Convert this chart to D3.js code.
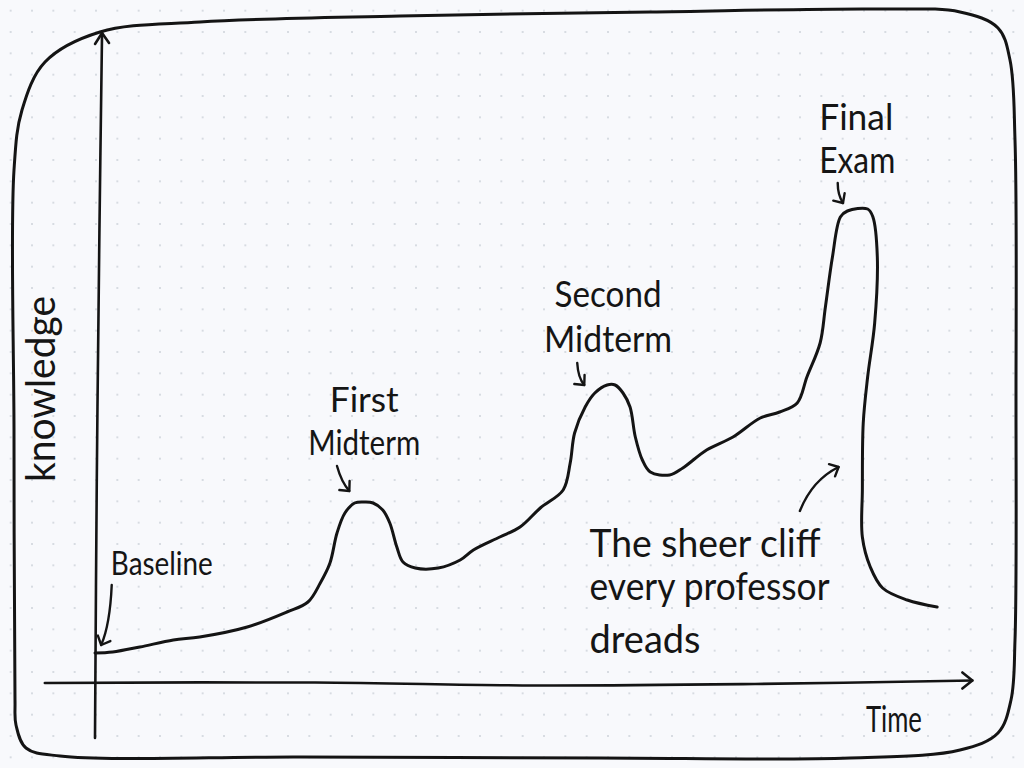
<!DOCTYPE html>
<html>
<head>
<meta charset="utf-8">
<script src="https://cdn.jsdelivr.net/npm/d3@7"></script>
<style>
  html, body { margin: 0; padding: 0; background: #f8f9fc; }
  svg { display: block; }
  .hand { font-family: "Lato", "Open Sans", "Noto Sans", sans-serif; font-weight: 400; fill: #151515; }
</style>
</head>
<body>
<svg id="chart" width="1024" height="768"></svg>
<script>
/* Knowledge over a semester, sketch style */

// curve: time (0-100) vs knowledge (0-100)
const TIME = [
  0, 2.0, 5.1, 8.9, 11.9, 17.3, 21.8, 24.2, 25.6, 26.7, 27.5, 28.4, 29.5, 30.7,
  31.6, 32.7, 33.5, 34.3, 35.0, 36.4, 39.0, 41.5, 43.0, 46.0, 48.3, 50.6, 53.2,
  54.0, 54.5, 55.7, 56.8, 58.2, 59.1, 60.0, 60.8, 61.4, 62.2, 63.1, 65.3, 66.8,
  69.5, 72.5, 75.6, 77.8, 79.8, 80.9, 82.4, 83.0, 83.8, 84.7, 85.5, 87.8, 88.4,
  88.9, 88.6, 87.8, 87.3, 87.2, 87.2, 88.1, 89.5, 92.3, 95.7
];
const KNOWLEDGE = [
  6.0, 6.2, 7.2, 8.6, 9.2, 11.2, 14.2, 16.2, 20.0, 24.0, 30.0, 34.0, 36.0, 36.2,
  36.0, 34.6, 32.0, 27.2, 24.2, 23.0, 23.0, 24.6, 26.6, 29.2, 31.2, 35.0, 38.6,
  44.0, 50.0, 55.2, 58.0, 59.6, 59.6, 58.0, 55.2, 49.2, 44.6, 42.2, 41.6, 43.0,
  46.6, 49.2, 53.0, 54.2, 56.0, 61.2, 68.0, 75.2, 85.2, 93.2, 94.4, 94.8, 93.2,
  85.2, 72.0, 61.2, 52.0, 38.6, 29.2, 23.2, 19.0, 16.6, 15.2
];

// annotation labels: lines, anchor (time, knowledge), size, widths
const LABEL_TEXT = [
  ["Baseline"],
  ["First", "Midterm"],
  ["Second", "Midterm"],
  ["Final", "Exam"],
  ["The sheer cliff", "every professor", "dreads"]
];
const LABEL_T = [1.8, 30.6, 58.3, 82.3, 56.2];
const LABEL_K = [[21.6], [54.2, 45.6], [75.2, 66.2], [110.6, 102.0], [25.2, 16.6, 6.0]];
const LABEL_ANCHOR = ["start", "middle", "middle", "start", "start"];
const LABEL_SIZE = [33, 35, 37, 37, 38];
const LABEL_WIDTH = [[102], [69, 112], [107, 128], [74, 76], [231, 240, 111]];

// pointer arrows: start, bend, end (time, knowledge)
const ARROW_FROM = [[1.9, 19.6], [27.5, 43.4], [54.8, 64.0], [84.4, 100.0], [80.1, 34.4]];
const ARROW_BEND = [[1.7, 11.6], [28.0, 40.2], [54.9, 61.0], [84.4, 97.6], [81.5, 40.6]];
const ARROW_TO = [[0.7, 7.6], [28.9, 38.4], [55.6, 59.6], [85.0, 96.0], [84.5, 43.2]];

const X_LABEL = "Time";
const Y_LABEL = "knowledge";

const W = 1024, H = 768;
const INK = "#141414";

const svg = d3.select("#chart");

const x = d3.scaleLinear().domain([0, 100]).range([95, 975]);
const y = d3.scaleLinear().domain([0, 100]).range([683, 183]);

// dotted paper
const defs = svg.append("defs");
const step = 64 / 3;
const pat = defs.append("pattern")
  .attr("id", "dots")
  .attr("patternUnits", "userSpaceOnUse")
  .attr("width", step)
  .attr("height", step);
pat.append("circle")
  .attr("cx", step / 2)
  .attr("cy", step / 2)
  .attr("r", 0.9)
  .attr("fill", "#c9ced6");

svg.append("rect").attr("width", W).attr("height", H).attr("fill", "#f8f9fc");
svg.append("rect").attr("width", W).attr("height", H).attr("fill", "url(#dots)");

// hand drawn frame
const framePts = [
  [15, 700], [14, 430], [14, 170], [22, 110], [45, 62], [100, 32], [200, 22],
  [400, 16], [650, 12], [880, 9], [960, 12], [998, 28], [1010, 60], [1015, 140],
  [1016, 400], [1015, 640], [1011, 700], [998, 733], [960, 750], [850, 758],
  [600, 758], [300, 757], [60, 756], [26, 748], [16, 725]
];
svg.append("path")
  .attr("d", d3.line().curve(d3.curveCatmullRomClosed.alpha(0.5))(framePts))
  .attr("fill", "none")
  .attr("stroke", INK)
  .attr("stroke-width", 3)
  .attr("stroke-linejoin", "round");

const axisLine = d3.line()
  .x(d => x(d[0]))
  .y(d => y(d[1]))
  .curve(d3.curveCatmullRom);

const axisG = svg.append("g")
  .attr("fill", "none")
  .attr("stroke", INK)
  .attr("stroke-width", 2.6)
  .attr("stroke-linecap", "round")
  .attr("stroke-linejoin", "round");

// y axis
axisG.append("path").attr("d", axisLine([[0, -11], [0.2, 40], [0.5, 90], [0.8, 130]]));
axisG.append("path").attr("d", `M${x(0.8) - 7},${y(130) + 11} L${x(0.8)},${y(130)} L${x(0.8) + 7},${y(130) + 10}`);

// x axis
axisG.append("path").attr("d", axisLine([[-5.7, 0], [25, 0.1], [50, -0.5], [75, -0.2], [99.7, 0.5]]));
axisG.append("path").attr("d", `M${x(99.7) - 10},${y(0.5) - 8} L${x(99.7)},${y(0.5)} L${x(99.7) - 10},${y(0.5) + 8}`);

// knowledge curve
const line = d3.line()
  .x((d, i) => x(TIME[i]))
  .y((d, i) => y(KNOWLEDGE[i]))
  .curve(d3.curveCatmullRom.alpha(0.5));

svg.append("path")
  .datum(TIME)
  .attr("d", line)
  .attr("fill", "none")
  .attr("stroke", INK)
  .attr("stroke-width", 3)
  .attr("stroke-linecap", "round")
  .attr("stroke-linejoin", "round");

// pointer arrows
const arrowG = svg.append("g")
  .attr("fill", "none")
  .attr("stroke", INK)
  .attr("stroke-width", 2.4)
  .attr("stroke-linecap", "round")
  .attr("stroke-linejoin", "round");

ARROW_FROM.forEach((from, i) => {
  const p0 = [x(from[0]), y(from[1])];
  const pc = [x(ARROW_BEND[i][0]), y(ARROW_BEND[i][1])];
  const p1 = [x(ARROW_TO[i][0]), y(ARROW_TO[i][1])];
  arrowG.append("path").attr("d", `M${p0[0]},${p0[1]} Q${pc[0]},${pc[1]} ${p1[0]},${p1[1]}`);

  const ang = Math.atan2(p1[1] - pc[1], p1[0] - pc[0]);
  const len = 10, spread = 0.75;
  const w1 = [p1[0] - len * Math.cos(ang - spread), p1[1] - len * Math.sin(ang - spread)];
  const w2 = [p1[0] - len * Math.cos(ang + spread), p1[1] - len * Math.sin(ang + spread)];
  arrowG.append("path").attr("d", `M${w1[0]},${w1[1]} L${p1[0]},${p1[1]} L${w2[0]},${w2[1]}`);
});

// labels
LABEL_TEXT.forEach((lines, i) => {
  lines.forEach((txt, j) => {
    svg.append("text")
      .attr("class", "hand")
      .attr("x", x(LABEL_T[i]))
      .attr("y", y(LABEL_K[i][j]))
      .attr("text-anchor", LABEL_ANCHOR[i])
      .attr("font-size", LABEL_SIZE[i])
      .attr("textLength", LABEL_WIDTH[i][j])
      .attr("lengthAdjust", "spacingAndGlyphs")
      .text(txt);
  });
});

// axis titles
svg.append("text")
  .attr("class", "hand")
  .attr("x", x(87.6))
  .attr("y", y(-9.8))
  .attr("font-size", 36)
  .attr("textLength", 56)
  .attr("lengthAdjust", "spacingAndGlyphs")
  .text(X_LABEL);

svg.append("text")
  .attr("class", "hand")
  .attr("transform", `translate(${x(-4.5)},${y(58.8)}) rotate(-90)`)
  .attr("text-anchor", "middle")
  .attr("font-size", 40)
  .attr("textLength", 186)
  .attr("lengthAdjust", "spacingAndGlyphs")
  .text(Y_LABEL);
</script>
</body>
</html>
